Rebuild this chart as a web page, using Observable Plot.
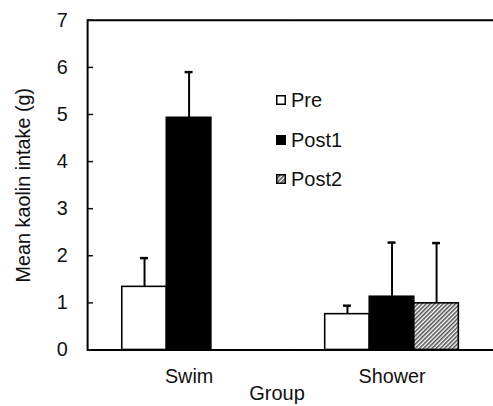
<!DOCTYPE html>
<html>
<head>
<meta charset="utf-8">
<script src="https://cdn.jsdelivr.net/npm/d3@7"></script>
<script src="https://cdn.jsdelivr.net/npm/@observablehq/plot@0.6"></script>
<style>
  body { margin: 0; background: #fff; font-family: "Liberation Sans", Arial, sans-serif; }
  #wrap { position: relative; width: 493px; height: 406px; overflow: hidden; }
  .leg { position: absolute; left: 276px; height: 24px; display: flex; align-items: center; font-size: 20px; color: #111; }
  .leg svg { margin-right: 5px; }
  #grp { position: absolute; left: 217px; width: 120px; top: 382px; text-align: center; font-size: 20px; line-height: 22px; color: #111; }
</style>
</head>
<body>
<svg width="0" height="0" style="position:absolute">
  <defs>
    <pattern id="hatch" patternUnits="userSpaceOnUse" width="3" height="3" patternTransform="rotate(45)">
      <rect width="3" height="3" fill="#fff"/>
      <line x1="0.8" y1="0" x2="0.8" y2="3" stroke="#555" stroke-width="1.6"/>
    </pattern>
  </defs>
</svg>
<div id="wrap"></div>
<script>
const groups = ["Swim", "Shower"];
const series = ["Pre", "Post1", "Post2"];
const seriesFill = ["#fff", "#000", "url(#hatch)"];
const swimMeans = [1.34, 4.93, null];
const swimSD = [0.61, 0.97, null];
const showerMeans = [0.76, 1.13, 0.99];
const showerSD = [0.18, 1.15, 1.28];
const yTicks = [0, 1, 2, 3, 4, 5, 6, 7];
const yLabel = "Mean kaolin intake (g)";
const xLabel = "Group";

const rows = [];
[[groups[0], swimMeans, swimSD], [groups[1], showerMeans, showerSD]].forEach(([g, m, e]) => {
  series.forEach((s, i) => {
    if (m[i] != null) rows.push({group: g, series: s, mean: m[i], upper: m[i] + e[i]});
  });
});

const chart = Plot.plot({
  width: 498, height: 406,
  marginLeft: 87, marginRight: 0, marginTop: 20, marginBottom: 53,
  style: {fontFamily: "'Liberation Sans', Arial, sans-serif", fontSize: "20px", color: "#111", background: "transparent"},
  fx: {domain: groups, padding: 0, label: null, axis: null},
  x: {domain: series, paddingInner: 0, paddingOuter: 0.73, axis: null},
  y: {domain: [0, 7], axis: null},
  color: {domain: series, range: seriesFill},
  marks: [
    Plot.ruleY([0, 7], {stroke: "#000", strokeWidth: 2}),
    Plot.barY(rows, {fx: "group", x: "series", y: "mean", fill: "series", stroke: "#000", strokeWidth: 1.6}),
    Plot.ruleX(rows, {fx: "group", x: "series", y1: "mean", y2: "upper", stroke: "#000", strokeWidth: 2}),
    Plot.tickY(rows, {fx: "group", x: "series", y: "upper", stroke: "#000", strokeWidth: 2.5, inset: 18.5}),
    Plot.axisY({anchor: "left", ticks: yTicks, tickFormat: d3.format("d"), tickSize: -6, tickPadding: 26, strokeWidth: 1.5,
      label: yLabel, labelAnchor: "center", labelArrow: "none", labelOffset: 72}),
    Plot.axisFx({anchor: "bottom", tickSize: 0, tickPadding: 19, label: null}),
    Plot.frame({anchor: "left", facetAnchor: "left", stroke: "#000", strokeWidth: 2})
  ]
});
const wrap = document.getElementById("wrap");
wrap.appendChild(chart);

const legendY = [88, 128, 167];
series.forEach((s, i) => {
  const d = document.createElement("div");
  d.className = "leg";
  d.style.top = legendY[i] + "px";
  d.innerHTML = `<svg width="10" height="10"><rect x="0.75" y="0.75" width="8.5" height="8.5" fill="${seriesFill[i]}" stroke="#000" stroke-width="1.5"/></svg><span>${s}</span>`;
  wrap.appendChild(d);
});
const g = document.createElement("div");
g.id = "grp";
g.textContent = xLabel;
wrap.appendChild(g);
</script>
</body>
</html>
